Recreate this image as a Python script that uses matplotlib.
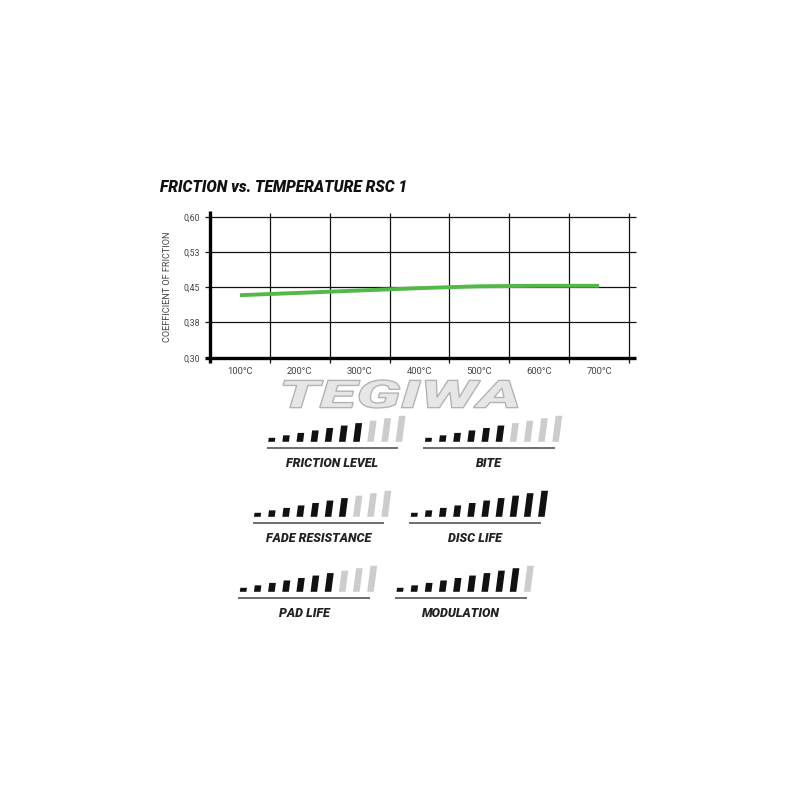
import matplotlib
matplotlib.use('Agg')
import numpy as np
import matplotlib.pyplot as plt
from matplotlib.patches import Polygon, PathPatch
from matplotlib.textpath import TextPath
from matplotlib.font_manager import FontProperties
from matplotlib.transforms import Affine2D

# ---------------- data ----------------
temps = ['100°C', '200°C', '300°C', '400°C', '500°C', '600°C', '700°C']
friction = [0.433, 0.438, 0.443, 0.448, 0.452, 0.453, 0.453]
y_ticks = [0.30, 0.375, 0.45, 0.525, 0.60]
y_tick_labels = ['0,30', '0,38', '0,45', '0,53', '0,60']
rating_names = ['FRICTION LEVEL', 'BITE', 'FADE RESISTANCE', 'DISC LIFE', 'PAD LIFE', 'MODULATION']
rating_values = [7, 6, 7, 10, 7, 9]
rating_max = 10
title = 'FRICTION vs. TEMPERATURE RSC 1'
ylabel = 'COEFFICIENT OF FRICTION'
watermark = 'TEGIWA'

W = H = 800
fig = plt.figure(figsize=(8, 8), dpi=100)
fig.patch.set_facecolor('white')

# ---------------- friction chart ----------------
ax_l, ax_r, ax_t, ax_b = 210, 629, 216.7, 357.7
ax = fig.add_axes([ax_l / W, 1 - ax_b / H, (ax_r - ax_l) / W, (ax_b - ax_t) / H])
n = len(temps)
ax.set_xlim(0, n)
ax.set_ylim(y_ticks[0], y_ticks[-1])
for s in ax.spines.values():
    s.set_visible(False)
ax.patch.set_alpha(0)

px_x = n / (ax_r - ax_l)
px_y = (y_ticks[-1] - y_ticks[0]) / (ax_b - ax_t)

for yt in y_ticks[1:]:
    ax.hlines(yt, -5 * px_x, n + 7 * px_x, color='#111111', lw=0.9, clip_on=False, zorder=1)
for i in range(1, n + 1):
    ax.vlines(i, y_ticks[0] - 5 * px_y, y_ticks[-1] + 4 * px_y, color='#111111', lw=0.9,
              clip_on=False, zorder=1)
ax.vlines(0, y_ticks[0] - 5 * px_y, y_ticks[-1] + 6 * px_y, color='#000000', lw=2.4,
          clip_on=False, zorder=3)
ax.hlines(y_ticks[0], -5 * px_x, n + 7 * px_x, color='#000000', lw=2.4, clip_on=False, zorder=3)

xc = np.arange(n) + 0.5
ax.plot(xc, friction, color='#52b947', lw=2.8, solid_capstyle='butt', zorder=2)

ax.set_xticks(xc)
ax.set_xticklabels(temps, fontsize=6.8, color='#444444', family='Roboto')
ax.set_yticks(y_ticks)
ax.set_yticklabels(y_tick_labels, fontsize=6.3, color='#444444', family='Roboto')
ax.tick_params(length=0)
ax.tick_params(axis='x', pad=6.5)
ax.tick_params(axis='y', pad=7)

fig.text(160 / W, 1 - 187 / H, title, ha='left', va='center', fontsize=11.2,
         weight='heavy', style='italic', family='Roboto', color='#111111')
fig.text(167 / W, 1 - 287 / H, ylabel, rotation=90, ha='center', va='center',
         fontsize=6.6, family='Roboto', color='#444444')

# ---------------- overlay for ratings ----------------
ov = fig.add_axes([0, 0, 1, 1])
ov.set_xlim(0, W)
ov.set_ylim(H, 0)
ov.axis('off')
ov.patch.set_alpha(0)

# watermark
fp = FontProperties(family='Roboto', weight='black', style='italic')
tp = TextPath((0, 0), watermark, size=100, prop=fp)
ext = tp.get_extents()
wx0, wx1, wtop, wbot = 283, 518, 380, 408
sx = ((wx1 - wx0) / W) / ext.width
sy = ((wbot - wtop) / H) / ext.height
tr = Affine2D().translate(-ext.x0, -ext.y0).scale(sx, sy).translate(wx0 / W, 1 - wbot / H) + fig.transFigure
wm = PathPatch(tp, facecolor='#e6e6e6', edgecolor='#b3b3b3', lw=1.0, transform=tr)
wm.set_clip_on(False)
ov.add_patch(wm)

bar_w = 6.6
step = 14.15
for k, (name, val) in enumerate(zip(rating_names, rating_values)):
    r, c = divmod(k, 2)
    x0 = 266.7 - 14.2 * r + 156.7 * c
    yu = 448.3 + 75.0 * r
    by = yu - 6.5
    for i in range(rating_max):
        h = 4.0 + 2.45 * i
        bx = x0 + 1.5 + step * i
        sl = 0.13 * h
        col = '#111111' if i < val else '#cccccc'
        ov.add_patch(Polygon([(bx, by), (bx + bar_w, by), (bx + bar_w + sl, by - h), (bx + sl, by - h)],
                             closed=True, facecolor=col, edgecolor='none'))
    ov.plot([x0, x0 + 131.7], [yu, yu], color='#555555', lw=1.2, solid_capstyle='butt')
    ov.text(x0 + 65.7, yu + 14.8, name, ha='center', va='center', fontsize=9.0,
            weight='heavy', style='italic', family='Roboto', color='#222222')

fig.savefig('out.png', dpi=100, facecolor='white')
